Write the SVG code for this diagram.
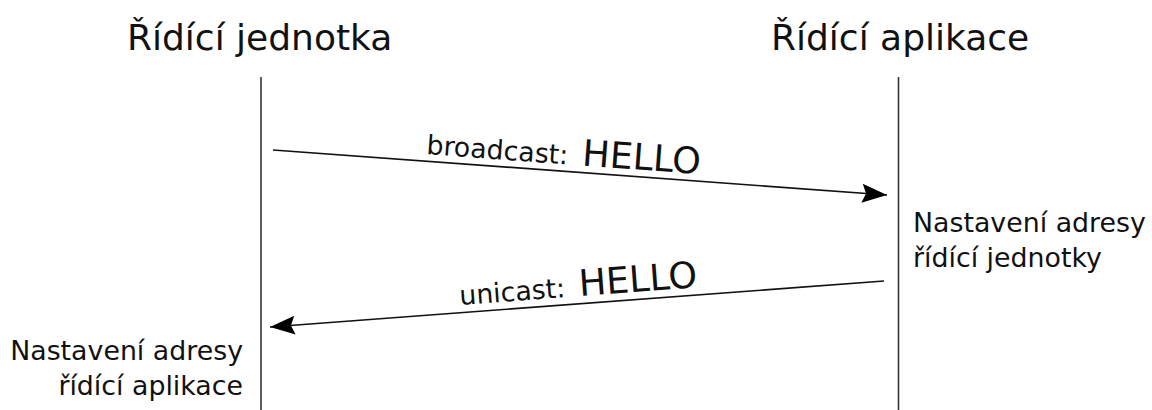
<svg xmlns="http://www.w3.org/2000/svg" width="1152" height="410" viewBox="0 0 1152 410">
  <style>
    text { font-family: "DejaVu Sans", Verdana, sans-serif; fill: #111; }
    .title { font-size: 36px; }
    .label { font-size: 26.8px; }
    .big { font-size: 36.5px; }
    .lifeline { stroke: #333; stroke-width: 1.6; fill: none; }
    .msg { stroke: #111; stroke-width: 1.7; fill: none; marker-end: url(#head); }
  </style>
  <defs>
    <marker id="head" markerUnits="userSpaceOnUse" markerWidth="28" markerHeight="24" refX="25" refY="11" orient="auto">
      <path d="M0,1.5 L25,11 L0,20.5 L4,11 z" fill="#000"/>
    </marker>
  </defs>

  <!-- participant: control unit -->
  <g id="unit">
    <text class="title" x="127" y="50">Řídící jednotka</text>
    <line class="lifeline" x1="261" y1="77" x2="261" y2="410"/>
    <text class="label" text-anchor="end" x="243" y="360">Nastavení adresy</text>
    <text class="label" text-anchor="end" x="243" y="395">řídící aplikace</text>
  </g>

  <!-- participant: control application -->
  <g id="app">
    <text class="title" x="771" y="50">Řídící aplikace</text>
    <line class="lifeline" x1="898.5" y1="77" x2="898.5" y2="410"/>
    <text class="label" x="913" y="232">Nastavení adresy</text>
    <text class="label" x="913" y="267">řídící jednotky</text>
  </g>

  <!-- messages -->
  <g id="connectors">
    <line class="msg" x1="273" y1="150" x2="887" y2="195"/>
    <text transform="rotate(4.19 426 154)" x="426" y="154"><tspan class="label">broadcast:</tspan><tspan class="big" dx="14">HELLO</tspan></text>
    <line class="msg" x1="884" y1="281" x2="270" y2="327"/>
    <text transform="rotate(-4.28 460 305)" x="460" y="305"><tspan class="label">unicast:</tspan><tspan class="big" dx="14">HELLO</tspan></text>
  </g>
</svg>
